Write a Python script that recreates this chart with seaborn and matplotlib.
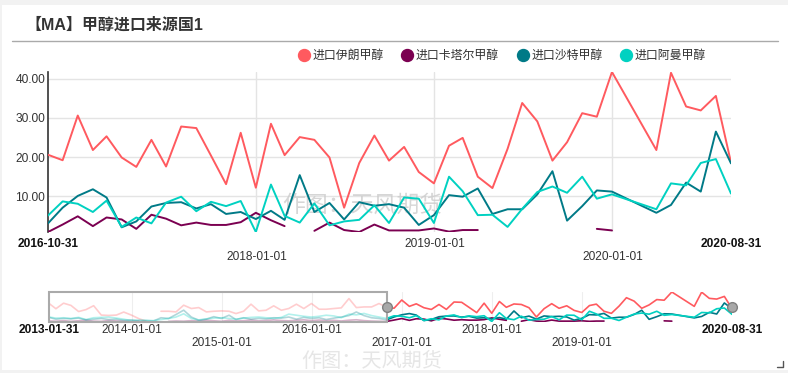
import pandas as pd
import seaborn as sns
import matplotlib.pyplot as plt
import matplotlib.transforms as mtransforms
from matplotlib.patches import Rectangle
from matplotlib.lines import Line2D

# Monthly data 2013-01 .. 2020-08 (Jan/Feb 2020 reported together, so no rows for them)
months = pd.date_range('2013-01-31', '2020-08-31', freq=pd.offsets.MonthEnd())
months = months[~months.isin(pd.to_datetime(['2020-01-31', '2020-02-29']))]

names = ['进口伊朗甲醇', '进口卡塔尔甲醇', '进口沙特甲醇', '进口阿曼甲醇']
colors = ['#FF5A5F', '#7B0051', '#007A87', '#00D1C1']

iran = [25.9, 18.5, 26.2, 23.1, 14.6, 17.3, 22.7, 9.7, 9.2, 9.7, 13.9, 9.7,
        4.6, 1.4, None, 15.0, 15.0, 14.1, 23.4, 18.8, 20.1, 14.1, 15.0, 15.5,
        15.0, 11.8, 15.0, 24.8, 15.5, 16.4, 22.5, 16.4, 18.8, 24.8, 18.8, 25.7,
        17.8, 17.8, 18.8, 19.7, 32.6, 20.1, 21.0, 21.0, 25.7, 20.6, 19.2, 30.6,
        21.8, 25.3, 19.9, 17.5, 24.4, 17.6, 27.8, 27.4, 20.4, 13.1, 26.2, 12.2,
        28.5, 20.5, 25.1, 24.4, 19.9, 7.1, 18.5, 25.5, 19.1, 22.6, 16.2, 13.3,
        22.9, 24.9, 15.0, 12.1, 22.1, 33.8, 29.1, 19.1, 23.8, 31.2, 30.3, 41.7,
        21.8, 41.5, 32.9, 31.9, 35.6, 18.6]

qatar = [1.5, 1.2, 2.0, 1.0, 1.8, 2.5, 1.3, 1.0, 2.2, 1.6, 1.1, 0.8,
         1.2, None, None, None, 1.0, 1.5, 1.2, 2.0, 1.4, 2.6, 1.8, 1.1,
         2.4, 1.5, 1.9, 2.8, 1.6, 2.2, 3.0, 2.1, 1.7, 2.5, 3.1, 2.0,
         2.8, 1.9, 2.4, 1.5, 2.6, 3.2, 2.0, 1.4, 1.1, 0.9, 2.8, 4.9,
         2.4, 4.6, 4.1, 1.7, 5.3, 4.3, 2.6, 3.3, 2.7, 2.7, 3.4, 5.8,
         3.9, 2.4, None, 1.2, 3.3, 1.4, 0.9, 2.8, 1.3, 1.3, 1.3, 1.8,
         1.0, 1.4, 1.4, None, None, None, None, None, None, None, 1.7, 1.3,
         None, None, None, None, None, None]

saudi = [6.5, 4.0, 5.0, 4.5, 5.5, 3.0, 4.0, 5.0, 3.5, 4.0, 2.5, 3.0,
         1.5, 2.0, 1.5, 6.0, 5.0, 10.5, 16.5, 7.0, 2.5, 4.0, 7.5, 5.0,
         9.5, 3.5, 6.0, 4.0, 5.0, 4.5, 6.0, 5.5, 7.0, 4.0, 6.5, 5.0,
         6.0, 3.5, 5.5, 7.0, 9.0, 14.0, 9.0, 6.0, 5.0, 3.1, 7.1, 10.1,
         11.8, 9.7, 2.1, 3.6, 7.4, 8.3, 8.5, 6.9, 8.0, 5.5, 6.0, 4.2,
         6.3, 4.0, 15.4, 6.0, 8.3, 4.1, 8.5, 7.6, 8.0, 7.1, 2.7, 5.2,
         10.3, 9.9, 12.0, 5.5, 6.7, 6.7, 10.5, 16.4, 3.8, 7.5, 11.5, 11.2,
         5.8, 7.8, 13.5, 11.2, 26.5, 18.4]

oman = [7.0, 5.5, 6.0, 5.0, 6.5, 3.5, 6.0, 6.5, 7.0, 5.5, 4.0, 2.0,
        3.0, 2.5, 2.0, 3.5, 5.0, 7.0, 11.5, 5.0, 3.0, 4.5, 5.5, 6.0,
        5.0, 4.0, 5.5, 6.5, 7.0, 6.0, 5.0, 6.5, 11.0, 9.5, 8.0, 7.0,
        8.0, 9.5, 8.5, 6.0, 11.0, 10.0, 12.0, 9.0, 7.0, 5.1, 8.7, 8.1,
        6.0, 8.9, 2.2, 4.6, 3.1, 8.4, 9.9, 6.2, 8.6, 7.5, 8.8, 0.9,
        13.0, 5.0, 3.3, 8.2, 2.6, 3.6, 4.0, 7.7, 3.2, 9.7, 9.4, 3.2,
        15.0, 11.3, 5.2, 5.3, 2.2, 6.8, 11.1, 12.5, 10.9, 15.0, 9.4, 10.5,
        6.7, 13.3, 12.8, 18.5, 19.5, 10.7]

start = pd.Timestamp('2016-10-31')
end = pd.Timestamp('2020-08-31')

main_row1 = ['2016-10-31', '2019-01-01', '2020-08-31']
main_row2 = ['2018-01-01', '2020-01-01']
main_years = ['2018-01-01', '2019-01-01', '2020-01-01']
zoom_row1 = ['2013-01-31', '2014-01-01', '2016-01-01', '2018-01-01', '2020-08-31']
zoom_row2 = ['2015-01-01', '2017-01-01', '2019-01-01']
zoom_years = ['2014-01-01', '2015-01-01', '2016-01-01', '2017-01-01', '2018-01-01', '2019-01-01']

# Long format, with a unit id per unbroken run so gaps stay as gaps
df = pd.DataFrame({'date': months, names[0]: iran, names[1]: qatar,
                   names[2]: saudi, names[3]: oman})
long = df.melt(id_vars='date', var_name='series', value_name='value')
long['value'] = long['value'].astype(float)
long['seg'] = long.groupby('series')['value'].transform(lambda s: s.isna().cumsum())
long = long.dropna(subset=['value'])
long['unit'] = long['series'] + '_' + long['seg'].astype(str)
palette = dict(zip(names, colors))

sns.set_style('white')
plt.rcParams['font.family'] = ['Liberation Sans', 'Noto Sans CJK SC']

W, H = 788, 373
fig = plt.figure(figsize=(W / 100, H / 100), dpi=100, facecolor='#f2f2f2')
fig.add_artist(Rectangle((2 / W, 3 / H), 786 / W, 365 / H, transform=fig.transFigure,
                         facecolor='white', edgecolor='none', zorder=-5))

# Title and rule under it
fig.text(25 / W, 1 - 25 / H, '【MA】甲醇进口来源国1', fontsize=11.5, fontweight='bold',
         color='#333333', va='center')
fig.add_artist(Line2D([12 / W, 778 / W], [1 - 41 / H, 1 - 41 / H], transform=fig.transFigure,
                      color='#aaaaaa', lw=1))

# Legend
handles = [Line2D([], [], marker='o', linestyle='', markersize=8.6, color=c) for c in colors]
fig.legend(handles, names, loc='center', bbox_to_anchor=(502 / W, 1 - 56 / H), ncol=4,
           frameon=False, fontsize=8.6, handlelength=1.0, handletextpad=0.2,
           columnspacing=1.5, borderaxespad=0, borderpad=0, labelcolor='#333333')

# Main chart
ax = fig.add_axes([48 / W, 1 - 232 / H, 683 / W, 160 / H])
win = long[long['date'] >= start]
sns.lineplot(data=win, x='date', y='value', hue='series', units='unit', estimator=None,
             palette=palette, hue_order=names, linewidth=1.4, legend=False, ax=ax, zorder=3)
ax.set_xlim(start, end)
ax.set_ylim(win['value'].min(), win['value'].max())
ax.set_yticks([10, 20, 30, 40])
ax.yaxis.set_major_formatter('{x:.2f}')
ax.yaxis.grid(True, color='#e4e4e4', lw=1)
for d in main_years:
    ax.axvline(pd.Timestamp(d), color='#e4e4e4', lw=1, zorder=1)
ax.set_axisbelow(True)
ax.set_xticks(pd.to_datetime(main_row1), labels=main_row1)
ax.set_xticks(pd.to_datetime(main_row2), labels=main_row2, minor=True)
ax.tick_params(axis='x', which='major', length=0, pad=4, labelsize=8.6, labelcolor='#333333')
ax.tick_params(axis='x', which='minor', length=0, pad=13.5, labelsize=8.6, labelcolor='#333333')
ax.tick_params(axis='y', length=0, pad=2, labelsize=8.6, labelcolor='#333333')
labs = ax.get_xticklabels()
labs[0].set_fontweight('bold')
labs[-1].set_fontweight('bold')
labs[0].set_color('#111111')
labs[-1].set_color('#111111')
ax.set_xlabel('')
ax.set_ylabel('')
sns.despine(ax=ax, bottom=True)
ax.spines['left'].set_color('#333333')
ax.spines['left'].set_linewidth(1.2)
ax.text(0.46, 0.17, '作图：天风期货', transform=ax.transAxes, fontsize=16.5,
        color='#cccccc', alpha=0.8, ha='center', va='center', zorder=2)

# Zoom slider overview
axs = fig.add_axes([49 / W, 1 - 321.5 / H, 683 / W, 29.5 / H])
old = long[long['date'] <= start]
sns.lineplot(data=old, x='date', y='value', hue='series', units='unit', estimator=None,
             palette=palette, hue_order=names, linewidth=1.2, alpha=0.3, legend=False, ax=axs)
sns.lineplot(data=win, x='date', y='value', hue='series', units='unit', estimator=None,
             palette=palette, hue_order=names, linewidth=1.2, legend=False, ax=axs)
axs.set_xlim(months[0], end)
axs.set_ylim(long['value'].min(), long['value'].max())
axs.set_yticks([])
for d in zoom_years:
    axs.axvline(pd.Timestamp(d), color='#eeeeee', lw=0.8, zorder=0)
axs.axvspan(months[0], start, fill=False, edgecolor='#aaaaaa', lw=1.5, clip_on=False, zorder=4)
blend = mtransforms.blended_transform_factory(axs.transData, axs.transAxes)
axs.plot([start, end], [0.5, 0.5], transform=blend, linestyle='', marker='o', markersize=7,
         color='#a8a8a8', markeredgecolor='#808080', clip_on=False, zorder=5)
axs.set_xticks(pd.to_datetime(zoom_row1), labels=zoom_row1)
axs.set_xticks(pd.to_datetime(zoom_row2), labels=zoom_row2, minor=True)
axs.tick_params(axis='x', which='major', length=0, pad=2, labelsize=8.6, labelcolor='#333333')
axs.tick_params(axis='x', which='minor', length=0, pad=11.5, labelsize=8.6, labelcolor='#333333')
zl = axs.get_xticklabels()
zl[0].set_fontweight('bold')
zl[-1].set_fontweight('bold')
zl[0].set_color('#111111')
zl[-1].set_color('#111111')
axs.set_xlabel('')
axs.set_ylabel('')
sns.despine(ax=axs, left=True, bottom=True)

fig.text(372 / W, 1 - 361 / H, '作图：天风期货', fontsize=14.5, color='#e6e6e6',
         ha='center', va='center', zorder=-1)
fig.add_artist(Line2D([777 / W, 783 / W, 783 / W], [1 - 367 / H, 1 - 367 / H, 1 - 361 / H],
                      transform=fig.transFigure, color='#555555', lw=1))

fig.savefig('out.png', dpi=100, facecolor=fig.get_facecolor())
